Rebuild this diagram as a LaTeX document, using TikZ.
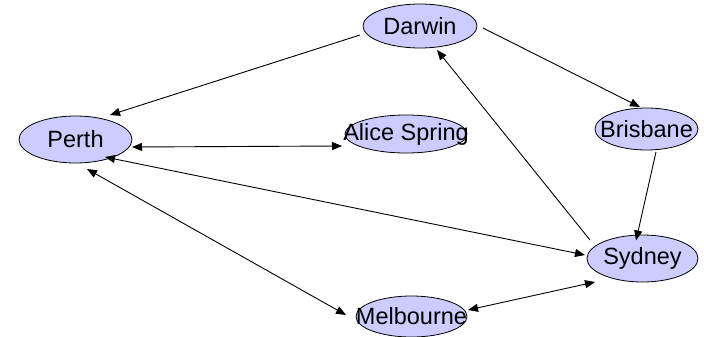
\documentclass[tikz,border=0pt]{standalone}
\usepackage{fontspec}
\setmainfont{Liberation Sans}
\usetikzlibrary{arrows.meta,shapes.geometric}
\definecolor{cityfill}{HTML}{CCCCFF}
% the label keeps its width out of the ellipse size, so long names may spill over
\newcommand{\cityname}[1]{\makebox[0pt]{#1}}
\begin{document}
\begin{tikzpicture}[x=1pt,y=-1pt,
  city/.style={ellipse,draw=black,line width=0.8pt,fill=cityfill,inner sep=0pt,
    font=\fontsize{23.5}{28}\selectfont},
  link/.style={line width=0.9pt,-{Triangle[length=10pt,width=8pt]}},
  twoway/.style={line width=0.9pt,{Triangle[length=10pt,width=8pt]}-{Triangle[length=10pt,width=8pt]}}]
\useasboundingbox (0,0) rectangle (704,337);
% cities
\node[city,minimum width=114pt,minimum height=44pt] (Darwin)   at (420,26)    {\cityname{Darwin}};
\node[city,minimum width=113pt,minimum height=47pt] (Perth)    at (75.5,139.5) {\cityname{Perth}};
\node[city,minimum width=122pt,minimum height=38pt] (Alice)    at (406,134)   {\cityname{Alice Spring}};
\node[city,minimum width=103pt,minimum height=42pt] (Brisbane) at (646.5,129) {\cityname{Brisbane}};
\node[city,minimum width=111pt,minimum height=47pt] (Sydney)   at (642.5,258.5) {\cityname{Sydney}};
\node[city,minimum width=111pt,minimum height=41pt] (Melbourne) at (411.5,316.5) {\cityname{Melbourne}};
% routes
\draw[link] ([shift={(-60,9)}]Darwin.center) -- ([shift={(34.5,-24.5)}]Perth.center);
\draw[link] ([shift={(63,2)}]Darwin.center) -- ([shift={(-6.5,-22)}]Brisbane.center);
\draw[twoway] ([shift={(56.5,7.5)}]Perth.center) -- ([shift={(-64,12)}]Alice.center);
\draw[twoway] ([shift={(29.5,17.5)}]Perth.center) -- ([shift={(-57.5,-3.5)}]Sydney.center);
\draw[twoway] ([shift={(11.5,29.5)}]Perth.center) -- ([shift={(-65.5,-1.5)}]Melbourne.center);
\draw[link] ([shift={(9.5,23)}]Brisbane.center) -- ([shift={(-6.5,-18)}]Sydney.center);
\draw[link] ([shift={(-52.5,-18.5)}]Sydney.center) -- ([shift={(17,24)}]Darwin.center);
\draw[twoway] ([shift={(56.5,-6.5)}]Melbourne.center) -- ([shift={(-47.5,23.5)}]Sydney.center);
\end{tikzpicture}
\end{document}
